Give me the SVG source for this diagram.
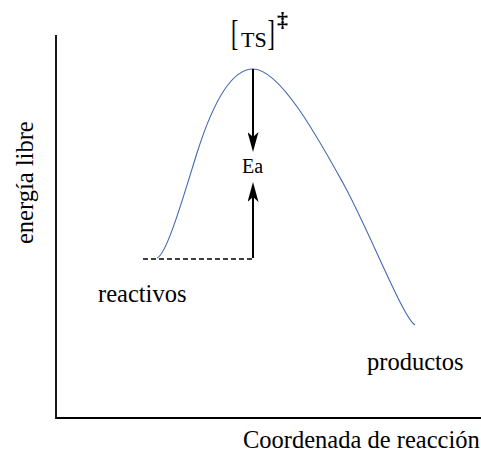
<svg xmlns="http://www.w3.org/2000/svg" width="481" height="459" viewBox="0 0 481 459">
  <style>
    .t { font-family: "Liberation Serif", "Times New Roman", serif; fill: #000; }
    .axis { stroke: #000; stroke-width: 1.8; fill: none; }
    .arrow { stroke: #000; stroke-width: 2; fill: none; }
    .curve { stroke: #4469B0; stroke-width: 1.1; fill: none; }
  </style>
  <defs>
    <marker id="head" viewBox="0 0 20 11" refX="15" refY="5.5" markerWidth="20" markerHeight="11" markerUnits="userSpaceOnUse" orient="auto">
      <path d="M0,0 L20,5.5 L0,11 L5,5.5 z" fill="#000"/>
    </marker>
  </defs>
  <rect width="481" height="459" fill="#fff"/>
  <g id="axes">
    <path class="axis" d="M56,35 V418 H481"/>
  </g>
  <g id="curve">
    <path class="curve" d="M157,258 C167,255 185,191 197,153 C209,115 228,69 253,69 C280,69 318,138 343,183 C368,228 403,318 415,325"/>
  </g>
  <g id="connectors">
    <line x1="143" y1="259" x2="255" y2="259" stroke="#000" stroke-width="1.5" stroke-dasharray="5 3"/>
    <line class="arrow" x1="253" y1="69" x2="253" y2="147" marker-end="url(#head)"/>
    <line class="arrow" x1="253" y1="258" x2="253" y2="187" marker-end="url(#head)"/>
  </g>
  <g id="ts">
    <text class="t" font-size="22" transform="scale(1,1.65)" x="231" y="27.4">[</text>
    <text class="t" font-size="22" x="241" y="47">TS</text>
    <text class="t" font-size="22" transform="scale(1,1.65)" x="267.5" y="27.4">]</text>
    <text class="t" font-size="22" font-weight="bold" x="282.5" y="27" text-anchor="middle">‡</text>
  </g>
  <g id="ea">
    <text class="t" font-size="20" x="252.5" y="173" text-anchor="middle">Ea</text>
  </g>
  <g id="reactivos">
    <text class="t" font-size="24.5" x="98" y="302">reactivos</text>
  </g>
  <g id="productos">
    <text class="t" font-size="24.5" x="367" y="370">productos</text>
  </g>
  <g id="xlabel">
    <text class="t" font-size="24.5" x="243" y="448">Coordenada de reacción</text>
  </g>
  <g id="ylabel">
    <text class="t" font-size="24.5" transform="translate(33,244) rotate(-90)" x="0" y="0">energía libre</text>
  </g>
</svg>
